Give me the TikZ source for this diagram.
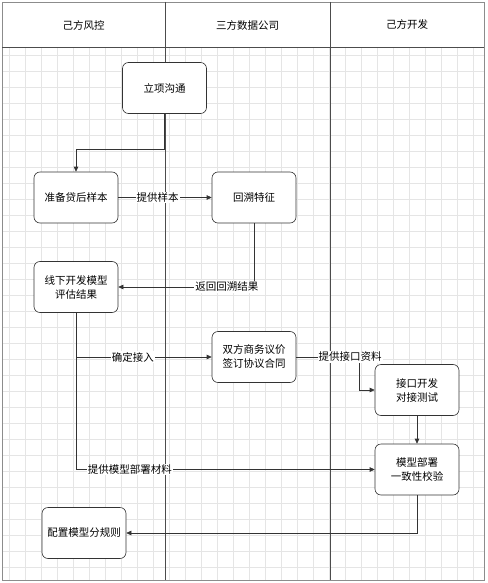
\documentclass[tikz,border=0pt]{standalone}
\usepackage{fontspec}
\setmainfont{Noto Sans CJK SC}
\usetikzlibrary{arrows.meta}

\begin{document}
\begin{tikzpicture}[x=1pt, y=-1pt, line width=0.6pt,
  every node/.style={font=\fontsize{10.5}{14}\selectfont},
  stepbox/.style={draw=black!80, rounded corners=6pt, minimum width=84pt,
    minimum height=51pt, align=center, fill=white},
  flow/.style={draw=black!80, -{Triangle[length=5pt,width=4.5pt]}},
  lbl/.style={fill=white, inner sep=1pt}]
  \useasboundingbox (0,0) rectangle (487,583);
  % grid
  \foreach \gx in {9,25,...,484} \draw[black!10, line width=0.4pt] (\gx,47) -- (\gx,580);
  \foreach \gy in {55,71,...,580} \draw[black!10, line width=0.4pt] (2,\gy) -- (484,\gy);
  % lanes
  \draw[black!45] (2,2) rectangle (484,580);
  \draw[black!70] (2,47) -- (484,47);
  \draw[black!70] (165,2) -- (165,580);
  \draw[black!70] (330,2) -- (330,580);
  \node (laneA) at (83.5,25) {己方风控};
  \node (laneB) at (247.5,25) {三方数据公司};
  \node (laneC) at (407,25) {己方开发};
  % steps
  \node[stepbox] (lixiang) at (164.5,88) {立项沟通};
  \node[stepbox] (zhunbei) at (76,197.5) {准备贷后样本};
  \node[stepbox] (huisu) at (254,197.5) {回溯特征};
  \node[stepbox] (xianxia) at (76,287) {线下开发模型\\评估结果};
  \node[stepbox] (shuangfang) at (254,357) {双方商务议价\\签订协议合同};
  \node[stepbox] (jiekou) at (417,390) {接口开发\\对接测试};
  \node[stepbox] (bushu) at (417,469.5) {模型部署\\一致性校验};
  \node[stepbox] (peizhi) at (84,533) {配置模型分规则};
  \coordinate (split) at (164.5,149);
  \coordinate (turn) at (359,390);
  % connectors
  \draw[flow] (lixiang.south) -- (split) -| (zhunbei.north);
  \draw[flow] (zhunbei.east) -- node[lbl, pos=0.42] {提供样本} (huisu.west);
  \draw[flow] (huisu.south) |- node[lbl, pos=0.6] {返回回溯结果} (xianxia.east);
  \draw[flow] (xianxia.south) |- node[lbl, pos=0.71] {确定接入} (shuangfang.west);
  \draw[flow] (xianxia.south) |- node[lbl, pos=0.59] {提供模型部署材料} (bushu.west);
  \draw[flow] (shuangfang.east) -| node[lbl, pos=0.43] {提供接口资料} (turn) -- (jiekou.west);
  \draw[flow] (jiekou.south) -- (bushu.north);
  \draw[flow] (bushu.south) |- (peizhi.east);
\end{tikzpicture}
\end{document}
